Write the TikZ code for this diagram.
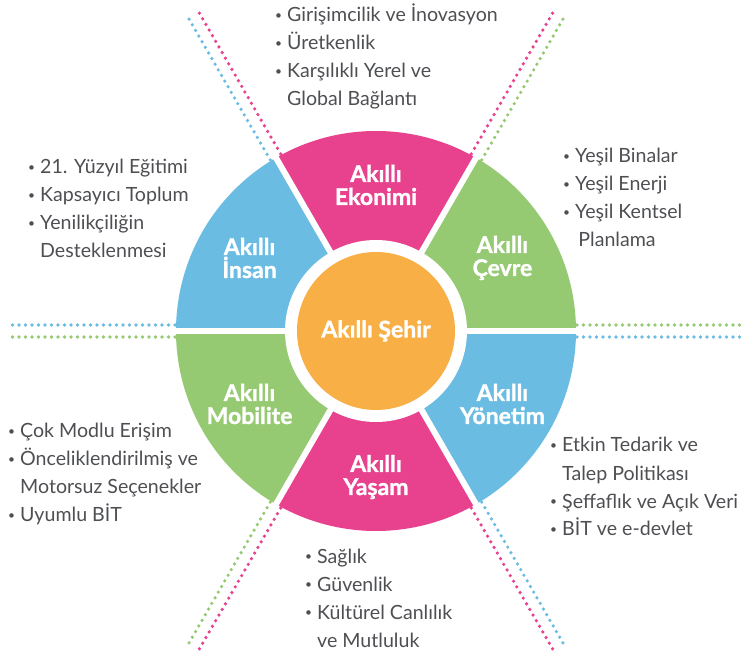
\documentclass[tikz,border=0pt]{standalone}
\usepackage{fontspec}
\setmainfont{Lato}[BoldFeatures={FakeBold=1.3}]
\definecolor{pnk}{HTML}{E8418E}
\definecolor{blu}{HTML}{6BBCE2}
\definecolor{grn}{HTML}{95C972}
\definecolor{org}{HTML}{F8AF45}
\definecolor{txt}{HTML}{4E4F52}
\newcommand{\bul}{\raisebox{2.6pt}{\fontsize{12}{12}\selectfont•}\ }
\begin{document}
\begin{tikzpicture}[x=1pt,y=1pt,
  seg/.style={font=\bfseries\fontsize{23}{23}\selectfont,text=white,align=center},
  lst/.style={font=\fontsize{19.6}{28}\selectfont,text=txt,align=left,anchor=base west,inner sep=0pt},
  dots/.style={line width=3.6pt,line cap=round,dash pattern=on 0pt off 6.5pt}]
  \useasboundingbox (-376,-329) rectangle (365,331);
  % wheel
  \foreach \a/\c in {0/grn,60/pnk,120/blu,180/grn,240/pnk,300/blu}
    \fill[\c] (0,0) -- (\a:200) arc[start angle=\a,end angle=\a+60,radius=200] -- cycle;
  \fill[white] (0,0) circle[radius=91];
  \foreach \a in {0,60,...,300}
    \draw[white,line width=6pt] (0,0) -- (\a:203);
  % dotted rays
  \foreach \a/\l/\r in {0/grn/blu,60/pnk/grn,120/blu/pnk,180/grn/blu,240/pnk/grn,300/blu/pnk}{
    \draw[dots,\l,shift={(\a+90:6)}] (\a:201) -- (\a:369);
    \draw[dots,\r,shift={(\a-90:6)}] (\a:201) -- (\a:369);
  }
  \node[circle,fill=org,minimum size=158pt,inner sep=0pt,seg] (hub) at (0,0) {Akıllı Şehir};
  \node[seg] (cevre) at (30:146) {Akıllı\\Çevre};
  \node[seg] (ekonomi) at (90:146) {Akıllı\\Ekonimi};
  \node[seg] (insan) at (150:146) {Akıllı\\İnsan};
  \node[seg] (mobilite) at (210:146) {Akıllı\\Mobilite};
  \node[seg] (yasam) at (270:146) {Akıllı\\Yaşam};
  \node[seg] (yonetim) at (330:146) {Akıllı\\Yönetim};
  % lists (base = last line)
  \node[lst] (ekolist) at (-101,225) {\bul Girişimcilik ve İnovasyon\\\bul Üretkenlik\\\bul Karşılıklı Yerel ve\\\hphantom{\bul}Global Bağlantı};
  \node[lst] (inslist) at (-348,73) {\bul 21. Yüzyıl Eğitimi\\\bul Kapsayıcı Toplum\\\bul Yenilikçiliğin\\\hphantom{\bul}Desteklenmesi};
  \node[lst] (cevlist) at (187,84) {\bul Yeşil Binalar\\\bul Yeşil Enerji\\\bul Yeşil Kentsel\\\hphantom{\bul}\,Planlama};
  \node[lst] (moblist) at (-368,-191) {\bul Çok Modlu Erişim\\\bul Önceliklendirilmiş ve\\\hphantom{\bul}Motorsuz Seçenekler\\\bul Uyumlu BİT};
  \node[lst] (yonlist) at (174,-205) {\bul Etkin Tedarik ve\\\hphantom{\bul}Talep Politikası\\\bul Şeffaflık ve Açık Veri\\\bul BİT ve e-devlet};
  \node[lst] (yaslist) at (-71,-316) {\bul Sağlık\\\bul Güvenlik\\\bul Kültürel Canlılık\\\hphantom{\bul}ve Mutluluk};
\end{tikzpicture}
\end{document}
